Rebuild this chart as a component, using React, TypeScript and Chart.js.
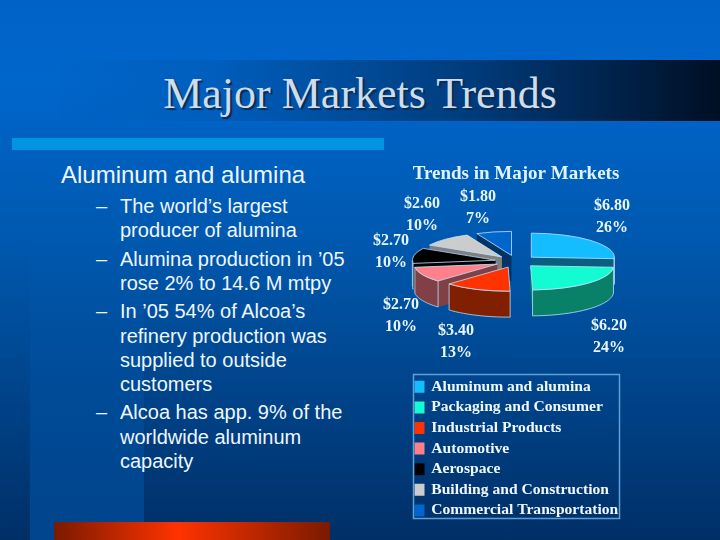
import React, { useEffect, useRef } from "react";
import { Chart, registerables } from "chart.js";

Chart.register(...registerables);

const categories = [
  "Aluminum and alumina",
  "Packaging and Consumer",
  "Industrial Products",
  "Automotive",
  "Aerospace",
  "Building and Construction",
  "Commercial Transportation",
];
const revenue = [6.8, 6.2, 3.4, 2.7, 2.7, 2.6, 1.8];
const dollarLabels = ["$6.80", "$6.20", "$3.40", "$2.70", "$2.70", "$2.60", "$1.80"];
const percentLabels = ["26%", "24%", "13%", "10%", "10%", "10%", "7%"];
const topColors = ["#14bdff", "#12fbd2", "#ff3300", "#ff8088", "#000000", "#cccccc", "#0066cc"];
const sideColors = ["#0a5e80", "#098068", "#802000", "#804045", "#000000", "#808080", "#003366"];

const bullets = [
  ["The world\u2019s largest", "producer of alumina"],
  ["Alumina production in \u201905", "rose 2% to 14.6 M mtpy"],
  ["In \u201905 54% of Alcoa\u2019s", "refinery production was", "supplied to outside", "customers"],
  ["Alcoa has app. 9% of the", "worldwide aluminum", "capacity"],
];

// canvas sits at x = 360; label anchors in canvas pixels
const canvasLeft = 360;
const labelAnchors = [
  [252, 206], [249, 326], [96, 331], [41, 305], [31, 241], [62, 204], [118, 197],
];
const explode = 21;
const tilt = 0.29;
const depth = 26;

const pie3d = {
  id: "pie3d",
  beforeDatasetDraw(chart: any) {
    const { ctx } = chart;
    const arcs: any[] = chart.getDatasetMeta(0).data;
    const order = arcs
      .map((a, i) => ({ a, i, mid: (a.startAngle + a.endAngle) / 2 }))
      .sort((p, q) => Math.sin(p.mid) - Math.sin(q.mid));
    const edge = "rgba(190,225,255,0.8)";
    for (const { a, i, mid } of order) {
      const dx = Math.cos(mid) * explode;
      const dy = Math.sin(mid) * explode * tilt;
      const cx = a.x + dx;
      const cy = a.y + dy;
      const r = a.outerRadius;
      const pt = (t: number, down = 0) => [cx + Math.cos(t) * r, cy + Math.sin(t) * r * tilt + down];
      const face = (pts: number[][], col: string, stroke: boolean) => {
        ctx.beginPath();
        pts.forEach((p, n) => (n ? ctx.lineTo(p[0], p[1]) : ctx.moveTo(p[0], p[1])));
        ctx.closePath();
        ctx.fillStyle = col;
        ctx.fill();
        if (stroke) {
          ctx.strokeStyle = edge;
          ctx.lineWidth = 1;
          ctx.stroke();
        }
      };
      // radial walls
      for (const t of [a.startAngle, a.endAngle]) {
        const p = pt(t);
        const q = pt(t, depth);
        face([[cx, cy], p, q, [cx, cy + depth]], sideColors[i], false);
      }
      // outer wall (front half only)
      const from = Math.max(a.startAngle, 0);
      const to = Math.min(a.endAngle, Math.PI);
      const ranges: number[][] = [];
      if (to > from) ranges.push([from, to]);
      const from2 = Math.max(a.startAngle, 2 * Math.PI);
      if (a.endAngle > from2) ranges.push([from2, a.endAngle]);
      for (const [s, e] of ranges) {
        const pts: number[][] = [];
        for (let n = 0; n <= 40; n++) pts.push(pt(s + ((e - s) * n) / 40));
        for (let n = 40; n >= 0; n--) pts.push(pt(s + ((e - s) * n) / 40, depth));
        face(pts, sideColors[i], true);
      }
      // top surface, drawn by the library's own arc element
      ctx.save();
      ctx.translate(cx, cy);
      ctx.scale(1, tilt);
      ctx.translate(-a.x, -a.y);
      a.draw(ctx, chart.chartArea);
      ctx.beginPath();
      ctx.moveTo(a.x, a.y);
      ctx.arc(a.x, a.y, r, a.startAngle, a.endAngle);
      ctx.closePath();
      ctx.restore();
      ctx.strokeStyle = edge;
      ctx.lineWidth = 1;
      ctx.stroke();
    }
    return false;
  },
  afterDraw(chart: any) {
    const { ctx } = chart;
    ctx.save();
    ctx.textAlign = "center";
    ctx.textBaseline = "middle";
    ctx.fillStyle = "#e6f6ff";
    ctx.font = 'bold 16px "Liberation Serif"';
    labelAnchors.forEach((p, i) => {
      ctx.fillText(dollarLabels[i], p[0], p[1]);
      ctx.fillText(percentLabels[i], p[0], p[1] + 22);
    });
    ctx.strokeStyle = "#5f9fd8";
    ctx.lineWidth = 1.5;
    ctx.strokeRect(53.5, 374.5, 206, 144);
    ctx.restore();
  },
  afterLayout(chart: any) {
    const l = chart.legend;
    l.left = 50.5;
    l.right = 260;
    l.top = 374;
    l.bottom = 540;
  },
};

export default function App() {
  const ref = useRef<HTMLCanvasElement>(null);
  useEffect(() => {
    const baseLabels = (Chart as any).overrides.pie.plugins.legend.labels.generateLabels;
    const chart = new Chart(ref.current!, {
      type: "pie",
      data: {
        labels: categories,
        datasets: [{
          data: revenue,
          backgroundColor: topColors,
          borderWidth: 0,
          radius: 83,
        } as any],
      },
      plugins: [pie3d],
      options: {
        animation: false,
        responsive: false,
        events: [],
        layout: { padding: { top: 163, bottom: 203, left: 30, right: 30 } },
        plugins: {
          tooltip: { enabled: false },
          title: {
            display: true,
            text: "Trends in Major Markets",
            color: "#dff3ff",
            font: { family: '"Liberation Serif"', size: 19, weight: "bold" },
            padding: 0,
          },
          legend: {
            position: "chartArea" as any,
            align: "start",
            labels: {
              color: "#f0f8ff",
              font: { family: '"Liberation Serif"', size: 15.6, weight: "bold" },
              boxWidth: 8,
              boxHeight: 10,
              padding: 5,
              generateLabels: (c: any) =>
                baseLabels(c).map((it: any) => ({ ...it, strokeStyle: it.fillStyle, lineWidth: 2 })),
            },
          },
        },
      },
    } as any);
    return () => chart.destroy();
  }, []);

  const bg: React.CSSProperties = {
    position: "fixed", left: 0, top: 0, width: 720, height: 540, overflow: "hidden",
    background: "linear-gradient(180deg, #0062c6 0%, #0066cc 15%, #0058ae 45%, #002f66 100%)",
  };
  const abs = (l: number, t: number, w: number, h: number, b: string): React.CSSProperties =>
    ({ position: "absolute", left: l, top: t, width: w, height: h, background: b });
  const sans = '"Liberation Sans"';
  let offset = 194;
  return (
    <div style={bg}>
      <div style={abs(30, 120, 114, 420, "linear-gradient(180deg, rgba(0,100,200,0) 0%, rgba(0,90,180,0.5) 100%)")} />
      <div style={abs(60, 60, 660, 61, "linear-gradient(90deg, rgba(0,96,190,0.25) 0%, #005fbe 22%, #003c7c 62%, #000f24 100%)")} />
      <div style={abs(12, 138, 372, 12, "#0095e0")} />
      <div style={abs(54, 522, 276, 18, "linear-gradient(90deg, #7a1a00 0%, #ff3300 45%, #7a1a00 100%)")} />
      <div style={{
        position: "absolute", left: 0, width: 720, top: 68, textAlign: "center", fontFamily: '"Liberation Serif"',
        fontSize: 44, lineHeight: "52px", color: "#cfdcea", textShadow: "2px 2px 1px #0a2a55",
      }}>Major Markets Trends</div>
      <div style={{ position: "absolute", left: 61, top: 161, fontFamily: sans, fontSize: 24, lineHeight: "28px", color: "#eef6ff", whiteSpace: "nowrap" }}>
        Aluminum and alumina
      </div>
      {bullets.map((b, i) => {
        const startTop = offset;
        const block = b.map((t, n) => {
          const top = startTop + n * 24.3;
          return (
            <div key={t} style={{ position: "absolute", left: 120, top, fontFamily: sans, fontSize: 20, lineHeight: "24px", color: "#eef6ff", whiteSpace: "nowrap" }}>{t}</div>
          );
        });
        offset += b.length * 24.3 + 4;
        return (
          <div key={i}>
            <div style={{ position: "absolute", left: 96, top: startTop, fontFamily: sans, fontSize: 20, lineHeight: "24px", color: "#eef6ff" }}>{"\u2013"}</div>
            {block}
          </div>
        );
      })}
      <canvas ref={ref} width={312} height={540} style={{ position: "absolute", left: canvasLeft, top: 0, width: 312, height: 540 }} />
    </div>
  );
}
